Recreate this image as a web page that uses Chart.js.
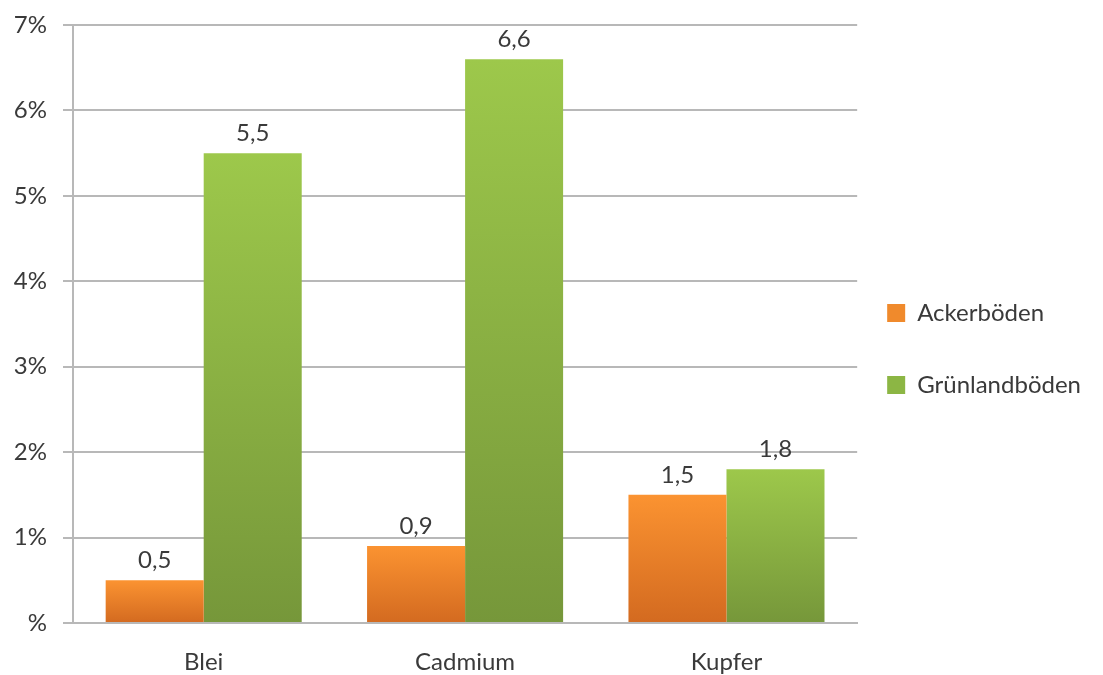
<!DOCTYPE html>
<html>
<head>
<meta charset="utf-8">
<script src="https://cdn.jsdelivr.net/npm/chart.js@4/dist/chart.umd.min.js"></script>
<style>
  html, body { margin: 0; padding: 0; background: #fff; }
  #wrap { width: 1103px; height: 675px; }
</style>
</head>
<body>
<div id="wrap"><canvas id="myChart"></canvas></div>
<script>
const metals = ["Blei", "Cadmium", "Kupfer"];
const ackerboeden = [0.5, 0.9, 1.5];
const gruenlandboeden = [5.5, 6.6, 1.8];
const seriesNames = ["Ackerböden", "Grünlandböden"];

const FONT = "Lato, 'Open Sans', sans-serif";
const TEXT = "#3a3a3a";

// vertical gradient spanning each single bar, light on top
function barGradient(top, bottom) {
  return (ctx) => {
    const chart = ctx.chart;
    if (ctx.type !== "data" || !chart.chartArea) return top;
    const y = chart.scales.y;
    const y0 = y.getPixelForValue(0);
    const y1 = y.getPixelForValue(ctx.raw);
    const g = chart.ctx.createLinearGradient(0, y1, 0, y0);
    g.addColorStop(0, top);
    g.addColorStop(1, bottom);
    return g;
  };
}

// numbers above the bars, with a comma as decimal separator
const valueLabels = {
  id: "valueLabels",
  afterDatasetsDraw(chart) {
    const c = chart.ctx;
    c.save();
    c.font = "24px " + FONT;
    c.fillStyle = TEXT;
    c.textAlign = "center";
    c.textBaseline = "alphabetic";
    chart.data.datasets.forEach((ds, i) => {
      chart.getDatasetMeta(i).data.forEach((bar, j) => {
        c.fillText(ds.data[j].toFixed(1).replace(".", ","), bar.x, bar.y - 12);
      });
    });
    c.restore();
  }
};

const data = {
  labels: metals,
  datasets: [
    {
      label: seriesNames[0],
      data: ackerboeden,
      backgroundColor: barGradient("#fb9331", "#d36a20"),
    },
    {
      label: seriesNames[1],
      data: gruenlandboeden,
      backgroundColor: barGradient("#9dc84b", "#76973a"),
    },
  ],
};

const config = {
  type: "bar",
  data,
  plugins: [valueLabels],
  options: {
    responsive: true,
    maintainAspectRatio: false,
    animation: false,
    layout: { padding: { left: 11, top: 25, right: 12, bottom: 0 } },
    categoryPercentage: 0.75,
    barPercentage: 1.0,
    plugins: {
      tooltip: { enabled: false },
      legend: {
        position: "right",
        align: "center",
        // empty title only pushes the entries a bit lower
        title: { display: true, text: " ", font: { size: 10 }, padding: 2 },
        labels: {
          font: { family: FONT, size: 24, lineHeight: 1.75 },
          color: TEXT,
          boxWidth: 18,
          boxHeight: 18,
          padding: 30,
          generateLabels(chart) {
            const cols = ["#f08a2c", "#8cb644"];
            // one-line arrays so the row height follows the font lineHeight
            return chart.data.datasets.map((ds, i) => ({
              text: [ds.label],
              fillStyle: cols[i],
              strokeStyle: cols[i],
              fontColor: TEXT,
              lineWidth: 0,
              datasetIndex: i,
            }));
          },
        },
      },
    },
    scales: {
      x: {
        grid: { display: false },
        border: { color: "#b8b8b8", width: 2 },
        ticks: { color: TEXT, font: { family: FONT, size: 24 }, padding: 17 },
        afterFit(scale) { scale.height = 52; },
      },
      y: {
        min: 0,
        max: 7,
        grid: { color: "#b8b8b8", lineWidth: 2, tickLength: 10 },
        border: { color: "#b8b8b8", width: 2 },
        ticks: {
          stepSize: 1,
          color: TEXT,
          font: { family: FONT, size: 24 },
          padding: 16,
          callback: (v) => (v === 0 ? "%" : v + "%"),
        },
        afterFit(scale) {
          scale.width = 62;
          scale.paddingTop = 0;
          scale.paddingBottom = 0;
        },
      },
    },
  },
};

const myChart = new Chart(document.getElementById("myChart"), config);
</script>
</body>
</html>
